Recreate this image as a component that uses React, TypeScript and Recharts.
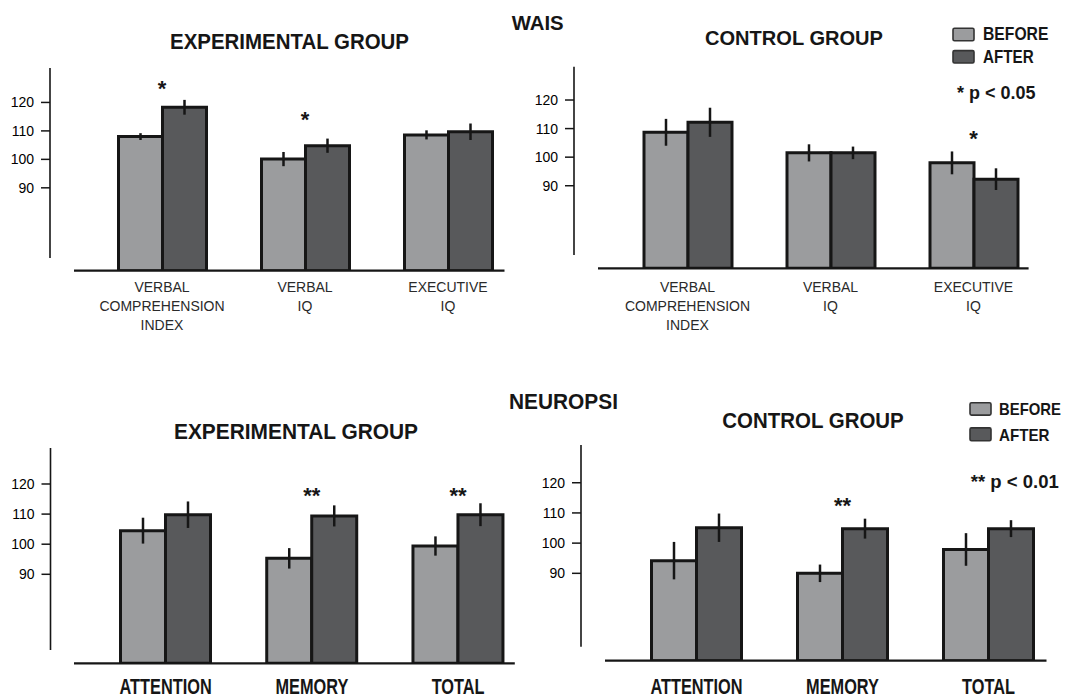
import React from "react";
import {Bar, BarChart, ErrorBar, ReferenceDot, XAxis, YAxis} from "recharts";

// ---- data ----
const waisCategories = ["VERBAL\nCOMPREHENSION\nINDEX", "VERBAL\nIQ", "EXECUTIVE\nIQ"];
const neuropsiCategories = ["ATTENTION", "MEMORY", "TOTAL"];

const waisExpBefore = [108.0, 100.1, 108.6];
const waisExpBeforeErr = [1.2, 2.5, 1.6];
const waisExpAfter = [118.3, 104.8, 109.7];
const waisExpAfterErr = [2.6, 2.5, 2.9];
const waisExpStars = ["*", "*", ""];
const waisExpStarY = [126.8, 115.6, null];

const waisCtlBefore = [108.7, 101.5, 98.0];
const waisCtlBeforeErr = [4.7, 3.0, 4.0];
const waisCtlAfter = [112.2, 101.5, 92.3];
const waisCtlAfterErr = [5.1, 2.2, 3.8];
const waisCtlStars = ["", "", "*"];
const waisCtlStarY = [null, null, 108.3];

const neuExpBefore = [104.5, 95.3, 99.4];
const neuExpBeforeErr = [4.3, 3.4, 3.2];
const neuExpAfter = [109.8, 109.4, 109.8];
const neuExpAfterErr = [4.4, 3.5, 3.8];
const neuExpStars = ["", "**", "**"];
const neuExpStarY = [null, 118, 118];

const neuCtlBefore = [94.2, 90.0, 97.9];
const neuCtlBeforeErr = [6.2, 2.9, 5.4];
const neuCtlAfter = [105.1, 104.8, 104.8];
const neuCtlAfterErr = [4.7, 3.3, 2.8];
const neuCtlStars = ["", "**", ""];
const neuCtlStarY = [null, 114, null];

const yTicks = [90, 100, 110, 120];
const seriesNames = ["BEFORE", "AFTER"];
const sigNotes = ["* p < 0.05", "** p < 0.01"];

// ---- styling ----
const W = 1070;
const H = 697;
const FONT = "'Liberation Sans', Arial, Helvetica, sans-serif";
const BEFORE_COLOR = "#9b9c9e";
const AFTER_COLOR = "#58595b";
const INK = "#161616";
const Y_AXIS_W = 50;

function rows(cats, before, beforeErr, after, afterErr, stars, starY) {
    return cats.map((name, i) => ({
        name,
        before: before[i],
        beforeErr: beforeErr[i],
        after: after[i],
        afterErr: afterErr[i],
        star: stars[i],
        starY: starY[i],
    }));
}

const WaisTick = ({x, y, payload, dy}) => {
    const lines = String(payload.value).split("\n");
    return (
        <text x={x} y={y} textAnchor="middle" fontFamily={FONT} fontSize={14} fill="#2a2a2a">
            {lines.map((l, i) => (
                <tspan key={i} x={x} dy={i === 0 ? dy : 19}>{l}</tspan>
            ))}
        </text>
    );
};

const NeuroTick = ({x, y, payload, dy}) => (
    <g transform={`translate(${x},${y + dy}) scale(0.76,1)`}>
        <text x={0} y={0} textAnchor="middle" fontFamily={FONT} fontSize={21.5} fontWeight="bold" fill={INK}>
            {payload.value}
        </text>
    </g>
);

const Star = (props) => (
    <text x={props.cx} y={props.cy + 12.5} textAnchor="middle" fontFamily={FONT} fontSize={22}
          fontWeight="bold" fill={INK}>
        {props.star}
    </text>
);

function Panel({data, layout, tick}) {
    const L = layout;
    return (
        <div style={{position: "absolute", left: 0, top: 0}}>
            <BarChart
                width={W}
                height={H}
                data={data}
                barGap={0}
                barSize={L.barSize}
                margin={{
                    top: L.plotTop,
                    left: L.plotLeft - Y_AXIS_W,
                    right: W - L.rangeEnd,
                    bottom: H - L.plotBottom - L.xAxisHeight,
                }}>
                <XAxis
                    dataKey="name"
                    type="category"
                    axisLine={false}
                    tickLine={false}
                    tickSize={0}
                    tickMargin={0}
                    interval={0}
                    height={L.xAxisHeight}
                    padding={{left: L.rangeStart - L.plotLeft, right: 0}}
                    tick={(p) => tick({...p, dy: L.labelDy})}/>
                <YAxis
                    type="number"
                    domain={[L.yMin, L.yMax]}
                    allowDataOverflow
                    ticks={yTicks}
                    interval={0}
                    width={Y_AXIS_W}
                    axisLine={false}
                    tickSize={9}
                    tickMargin={7}
                    tickLine={{stroke: INK, strokeWidth: 1.5}}
                    tick={{fontSize: 14, fill: "#000", fontFamily: FONT}}/>
                <Bar dataKey="before" name={seriesNames[0]} fill={BEFORE_COLOR} stroke={INK}
                     strokeWidth={3} isAnimationActive={false}>
                    <ErrorBar dataKey="beforeErr" width={0} stroke={INK} strokeWidth={2.5}/>
                </Bar>
                <Bar dataKey="after" name={seriesNames[1]} fill={AFTER_COLOR} stroke={INK}
                     strokeWidth={3} isAnimationActive={false}>
                    <ErrorBar dataKey="afterErr" width={0} stroke={INK} strokeWidth={2.5}/>
                </Bar>
                {data.filter(r => r.star).map(r => (
                    <ReferenceDot
                        key={r.name}
                        x={r.name}
                        y={r.starY}
                        ifOverflow="visible"
                        shape={(p) => <Star {...p} star={r.star}/>}/>
                ))}
            </BarChart>
        </div>
    );
}

// plot geometry of each panel (page pixels), axis lines are drawn separately
// because the figure's x and y axis lines don't meet
const layouts = {
    waisExp: {
        plotLeft: 50, plotTop: 68, plotBottom: 270.7, rangeStart: 90.5, rangeEnd: 519.5,
        yMin: 60.88, yMax: 132.1, yLineBottom: 258, xLineStart: 74, xLineEnd: 504.5,
        barSize: 44, xAxisHeight: 60, labelDy: 21,
    },
    waisCtl: {
        plotLeft: 574, plotTop: 66.7, plotBottom: 268.3, rangeStart: 616, rangeEnd: 1045,
        yMin: 61.1, yMax: 131.66, yLineBottom: 255, xLineStart: 598, xLineEnd: 1028.6,
        barSize: 44, xAxisHeight: 62, labelDy: 23.4,
    },
    neuExp: {
        plotLeft: 50.5, plotTop: 448, plotBottom: 663.3, rangeStart: 92.5, rangeEnd: 531.2,
        yMin: 60.43, yMax: 131.96, yLineBottom: 650, xLineStart: 74, xLineEnd: 514.8,
        barSize: 45, xAxisHeight: 32, labelDy: 30.5,
    },
    neuCtl: {
        plotLeft: 581, plotTop: 445, plotBottom: 660.7, rangeStart: 623.5, rangeEnd: 1061.5,
        yMin: 61.06, yMax: 132.5, yLineBottom: 646.7, xLineStart: 605, xLineEnd: 1046.5,
        barSize: 45, xAxisHeight: 34, labelDy: 33,
    },
};

const Txt = ({x, y, size, len, anchor = "start", children}) => (
    <text x={x} y={y} fontFamily={FONT} fontSize={size} fontWeight="bold" fill={INK} textAnchor={anchor}
          textLength={len} lengthAdjust="spacingAndGlyphs">
        {children}
    </text>
);

function LegendBox({x, y, h, color}) {
    return <rect x={x} y={y} width={21} height={h} fill={color} stroke="#333" strokeWidth={1.6} rx={1.5}/>;
}

function AxisLines({layout}) {
    const L = layout;
    return (
        <g stroke={INK}>
            <line x1={L.plotLeft} x2={L.plotLeft} y1={L.plotTop} y2={L.yLineBottom} strokeWidth={1.6}/>
            <line x1={L.xLineStart} x2={L.xLineEnd} y1={L.plotBottom} y2={L.plotBottom} strokeWidth={2.2}/>
        </g>
    );
}

export default function App() {
    const waisExp = rows(waisCategories, waisExpBefore, waisExpBeforeErr, waisExpAfter, waisExpAfterErr, waisExpStars, waisExpStarY);
    const waisCtl = rows(waisCategories, waisCtlBefore, waisCtlBeforeErr, waisCtlAfter, waisCtlAfterErr, waisCtlStars, waisCtlStarY);
    const neuExp = rows(neuropsiCategories, neuExpBefore, neuExpBeforeErr, neuExpAfter, neuExpAfterErr, neuExpStars, neuExpStarY);
    const neuCtl = rows(neuropsiCategories, neuCtlBefore, neuCtlBeforeErr, neuCtlAfter, neuCtlAfterErr, neuCtlStars, neuCtlStarY);

    return (
        <div style={{position: "absolute", left: 0, top: 0, width: W, height: H, background: "#fff", overflow: "hidden"}}>
            <Panel data={waisExp} layout={layouts.waisExp} tick={WaisTick}/>
            <Panel data={waisCtl} layout={layouts.waisCtl} tick={WaisTick}/>
            <Panel data={neuExp} layout={layouts.neuExp} tick={NeuroTick}/>
            <Panel data={neuCtl} layout={layouts.neuCtl} tick={NeuroTick}/>
            <svg width={W} height={H} style={{position: "absolute", left: 0, top: 0, pointerEvents: "none"}}>
                {Object.keys(layouts).map(k => <AxisLines key={k} layout={layouts[k]}/>)}

                <Txt x={511.7} y={30} size={21} len={52}>WAIS</Txt>
                <Txt x={509} y={409} size={22} len={109}>NEUROPSI</Txt>

                <Txt x={289.5} y={49.3} size={22} len={239} anchor="middle">EXPERIMENTAL GROUP</Txt>
                <Txt x={794} y={45} size={21} len={178} anchor="middle">CONTROL GROUP</Txt>
                <Txt x={296} y={439.3} size={22} len={244} anchor="middle">EXPERIMENTAL GROUP</Txt>
                <Txt x={813} y={428.3} size={22} len={181.5} anchor="middle">CONTROL GROUP</Txt>

                <LegendBox x={953} y={28.3} h={12.4} color={BEFORE_COLOR}/>
                <LegendBox x={953} y={50.6} h={12.4} color={AFTER_COLOR}/>
                <Txt x={983} y={40} size={17.5} len={65.4}>{seriesNames[0]}</Txt>
                <Txt x={983} y={62.7} size={17.5} len={50.6}>{seriesNames[1]}</Txt>
                <Txt x={957} y={99} size={17.5} len={78.5}>{sigNotes[0]}</Txt>

                <LegendBox x={970} y={402.7} h={12.4} color={BEFORE_COLOR}/>
                <LegendBox x={970} y={427.9} h={12.8} color={AFTER_COLOR}/>
                <Txt x={999} y={415} size={17} len={62}>{seriesNames[0]}</Txt>
                <Txt x={999} y={440.7} size={17} len={50.5}>{seriesNames[1]}</Txt>
                <Txt x={970.8} y={488.3} size={17.5} len={88}>{sigNotes[1]}</Txt>
            </svg>
        </div>
    );
}
